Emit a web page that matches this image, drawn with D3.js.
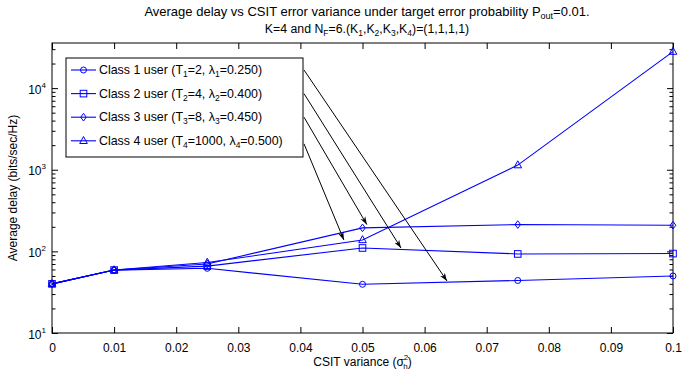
<!DOCTYPE html>
<html>
<head>
<meta charset="utf-8">
<script src="https://cdn.jsdelivr.net/npm/d3@7"></script>
<style>
  body { margin: 0; background: #fff; }
  svg { font-family: "Liberation Sans", Arial, sans-serif; }
</style>
</head>
<body>
<svg id="board" width="685" height="376"></svg>
<script>
// data
const variances = [0, 0.01, 0.025, 0.05, 0.075, 0.1];
const class1 = [40, 59, 62, 39.5, 44, 50];
const class2 = [40, 59, 66, 110, 93, 94];
const class3 = [40, 59, 70, 194, 213, 209];
const class4 = [40, 59, 73, 138, 1140, 28000];
const classNames = ["1", "2", "3", "4"];
const classT = ["2", "4", "8", "1000"];
const classLambda = ["0.250", "0.400", "0.450", "0.500"];
const markerTypes = ["circle", "square", "diamond", "triangle"];
// arrow targets (data coords), one per legend row
const arrowX = [0.0636, 0.0562, 0.0507, 0.047];
const arrowY = [43.4, 110, 213, 138];
const xTicks = [0, 0.01, 0.02, 0.03, 0.04, 0.05, 0.06, 0.07, 0.08, 0.09, 0.1];

const series = [class1, class2, class3, class4];
const blue = "#0000ff";

const board = d3.select("#board");
const plotL = 52, plotR = 673, plotT = 43, plotB = 333;

const x = d3.scaleLinear().domain([0, 0.1]).range([plotL, plotR]);
const y = d3.scaleLog().domain([10, 35700]).range([plotB, plotT]);

// title
const title = board.append("text")
    .attr("x", 367)
    .attr("y", 16)
    .attr("text-anchor", "middle")
    .attr("font-size", "13px");
title.append("tspan").text("Average delay vs CSIT error variance under target error probability P");
title.append("tspan").attr("dy", 3).attr("font-size", "9px").text("out");
title.append("tspan").attr("dy", -3).text("=0.01.");

const title2 = board.append("text")
    .attr("x", 367)
    .attr("y", 33)
    .attr("text-anchor", "middle")
    .attr("font-size", "12.3px");
title2.append("tspan").text("K=4 and N");
title2.append("tspan").attr("dy", 3).attr("font-size", "8.5px").text("F");
title2.append("tspan").attr("dy", -3).text("=6.(K");
["1", "2", "3", "4"].forEach((s, i) => {
    title2.append("tspan").attr("dy", 3).attr("font-size", "8.5px").text(s);
    title2.append("tspan").attr("dy", -3).text(i < 3 ? ",K" : ")=(1,1,1,1)");
});

// axes
const yTickVals = y.ticks().filter(v => v <= 35700);
const isMajor = v => Math.abs(Math.log10(v) - Math.round(Math.log10(v))) < 1e-9;

board.append("g")
    .attr("transform", `translate(0,${plotB})`)
    .call(d3.axisBottom(x).tickValues(xTicks).tickSize(-6).tickPadding(10).tickFormat(d => d === 0 ? "0" : d3.format(".2~f")(d)))
    .call(g => g.select(".domain").remove())
    .call(g => g.selectAll("text").attr("font-size", "12px").attr("fill", "#000"))
    .attr("font-family", null);

board.append("g")
    .attr("transform", `translate(0,${plotT})`)
    .call(d3.axisTop(x).tickValues(xTicks).tickSize(-6).tickFormat(""))
    .call(g => g.select(".domain").remove());

const yLeft = board.append("g")
    .attr("transform", `translate(${plotL},0)`)
    .call(d3.axisLeft(y).tickValues(yTickVals).tickSize(-6).tickFormat(""))
    .call(g => g.select(".domain").remove())
    .attr("font-family", null);
yLeft.selectAll(".tick line").attr("x2", d => isMajor(d) ? 6 : 3.5);
yLeft.selectAll(".tick").filter(d => isMajor(d)).each(function (d) {
    const t = d3.select(this).append("text")
        .attr("x", -6)
        .attr("y", 5)
        .attr("text-anchor", "end")
        .attr("font-size", "12px")
        .attr("fill", "#000");
    t.append("tspan").text("10");
    t.append("tspan").attr("dy", -6).attr("font-size", "8px").text(Math.round(Math.log10(d)));
});

const yRight = board.append("g")
    .attr("transform", `translate(${plotR},0)`)
    .call(d3.axisRight(y).tickValues(yTickVals).tickSize(-6).tickFormat(""))
    .call(g => g.select(".domain").remove());
yRight.selectAll(".tick line").attr("x2", d => isMajor(d) ? -6 : -3.5);

board.append("rect")
    .attr("x", plotL).attr("y", plotT)
    .attr("width", plotR - plotL).attr("height", plotB - plotT)
    .attr("fill", "none").attr("stroke", "#000").attr("stroke-width", 1);

// axis labels
const xl = board.append("text")
    .attr("x", (plotL + plotR) / 2)
    .attr("y", 366)
    .attr("text-anchor", "middle")
    .attr("font-size", "12px");
xl.append("tspan").text("CSIT variance (σ");
xl.append("tspan").attr("font-size", "8px").attr("dy", -6).text("2");
xl.append("tspan").attr("font-size", "8px").attr("dx", -5).attr("dy", 9).text("h");
xl.append("tspan").attr("dy", -3).text(")");

board.append("text")
    .attr("transform", `translate(17,${(plotT + plotB) / 2}) rotate(-90)`)
    .attr("text-anchor", "middle")
    .attr("font-size", "12px")
    .text("Average delay (bits/sec/Hz)");

// markers
function drawMarker(g, type, cx, cy) {
    if (type === "circle") {
        g.append("circle").attr("cx", cx).attr("cy", cy).attr("r", 3);
    } else if (type === "square") {
        g.append("rect").attr("x", cx - 3.3).attr("y", cy - 3.3).attr("width", 6.6).attr("height", 6.6);
    } else if (type === "diamond") {
        g.append("path").attr("d", `M${cx},${cy - 3.8}L${cx + 2.8},${cy}L${cx},${cy + 3.8}L${cx - 2.8},${cy}Z`);
    } else {
        g.append("path").attr("d", `M${cx},${cy - 4.3}L${cx + 3.8},${cy + 2.7}L${cx - 3.8},${cy + 2.7}Z`);
    }
}

const line = d3.line().x((d, i) => x(variances[i])).y(d => y(d));

series.forEach((vals, k) => {
    board.append("path")
        .datum(vals)
        .attr("d", line)
        .attr("fill", "none")
        .attr("stroke", blue)
        .attr("stroke-width", 1.1);
    const mg = board.append("g").attr("fill", "none").attr("stroke", blue).attr("stroke-width", 1);
    vals.forEach((v, i) => drawMarker(mg, markerTypes[k], x(variances[i]), y(v)));
});

// legend
const lgX = 66, lgY = 58, lgW = 237, lgH = 99, rowH = 23.6;
board.append("rect")
    .attr("x", lgX).attr("y", lgY).attr("width", lgW).attr("height", lgH)
    .attr("fill", "#fff").attr("stroke", "#000").attr("stroke-width", 1);

classNames.forEach((c, k) => {
    const ry = lgY + 12 + k * rowH;
    board.append("line")
        .attr("x1", lgX + 5).attr("x2", lgX + 30)
        .attr("y1", ry).attr("y2", ry)
        .attr("stroke", blue).attr("stroke-width", 1.1);
    const mg = board.append("g").attr("fill", "none").attr("stroke", blue).attr("stroke-width", 1);
    drawMarker(mg, markerTypes[k], lgX + 17.5, ry);
    const t = board.append("text")
        .attr("x", lgX + 33).attr("y", ry + 4)
        .attr("font-size", "12.4px");
    t.append("tspan").text(`Class ${c} user (T`);
    t.append("tspan").attr("dy", 3).attr("font-size", "8.5px").text(c);
    t.append("tspan").attr("dy", -3).text(`=${classT[k]}, λ`);
    t.append("tspan").attr("dy", 3).attr("font-size", "8.5px").text(c);
    t.append("tspan").attr("dy", -3).text(`=${classLambda[k]})`);
});

// arrows from legend to curves
board.append("defs").append("marker")
    .attr("id", "head")
    .attr("viewBox", "0 0 10 10")
    .attr("refX", 10).attr("refY", 5)
    .attr("markerWidth", 8).attr("markerHeight", 8)
    .attr("markerUnits", "userSpaceOnUse")
    .attr("orient", "auto")
    .append("path")
    .attr("d", "M0,1.5L10,5L0,8.5L3,5Z")
    .attr("fill", "#000");

classNames.forEach((c, k) => {
    const sy = lgY + 12 + k * rowH + (k === 3 ? 3 : 0);
    board.append("line")
        .attr("x1", lgX + lgW + 1).attr("y1", sy)
        .attr("x2", x(arrowX[k])).attr("y2", y(arrowY[k]))
        .attr("stroke", "#000").attr("stroke-width", 1)
        .attr("marker-end", "url(#head)");
});
</script>
</body>
</html>
